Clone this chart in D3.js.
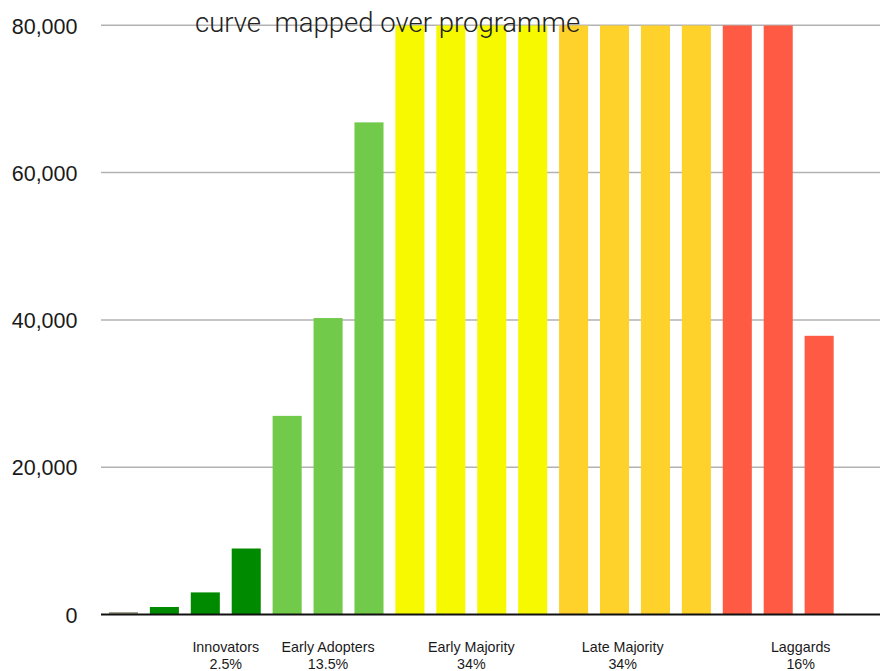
<!DOCTYPE html>
<html>
<head>
<meta charset="utf-8">
<script src="https://cdn.jsdelivr.net/npm/d3@7"></script>
<style>
  html, body { margin: 0; padding: 0; background: #fff; }
  svg { display: block; }
</style>
</head>
<body>
<svg id="chart" width="886" height="671"></svg>
<script>
// Programme months and the number of adopters reached in each
const months = ["M1","M2","M3","M4","M5","M6","M7","M8","M9","M10","M11","M12","M13","M14","M15","M16","M17","M18"];
const adopters = [340, 1020, 3000, 8960, 26970, 40250, 66820, 80000, 80000, 80000, 80000, 80000, 80000, 80000, 80000, 80000, 80000, 37840];
// Adopter segment each month belongs to (0 = pre-launch)
const segmentOf = [0, 1, 1, 1, 2, 2, 2, 3, 3, 3, 3, 4, 4, 4, 4, 5, 5, 5];
const segmentColors = ["#a3a38f", "#008a00", "#72ca4a", "#f6f900", "#ffd12b", "#ff5a43"];

// Segment captions under the axis
const segmentNames = ["Innovators", "Early Adopters", "Early Majority", "Late Majority", "Laggards"];
const segmentShares = ["2.5%", "13.5%", "34%", "34%", "16%"];
const yTicks = [0, 20000, 40000, 60000, 80000];
const title = "curve  mapped over programme";

const svg = d3.select("#chart");
const baseY = 614.5, topY = 25.3;
const gridLeft = 101, gridRight = 880;

const x = d3.scaleBand().domain(months).range([103, 839.6]).paddingInner(0.29).paddingOuter(0.145);
const y = d3.scaleLinear().domain([0, 80000]).range([baseY, topY]);

// Horizontal gridlines
svg.append("g").selectAll("line").data(yTicks.filter(d => d > 0)).join("line")
  .attr("x1", gridLeft).attr("x2", gridRight)
  .attr("y1", d => y(d)).attr("y2", d => y(d))
  .attr("stroke", "#b2b2b2").attr("stroke-width", 1.5);

// Y axis labels
const yAxis = d3.axisLeft(y).tickValues(yTicks).tickSize(0).tickPadding(0)
  .tickFormat(d3.format(","));
svg.append("g").attr("transform", "translate(77.5,0)").call(yAxis)
  .call(g => g.select(".domain").remove())
  .call(g => g.selectAll("text")
    .attr("font-family", "'Liberation Sans', Arial, sans-serif")
    .attr("font-size", 21.5).attr("fill", "#1a1a1a").attr("dy", "0.36em"));

// Bars (clipped at the top of the value range)
svg.append("defs").append("clipPath").attr("id", "plot")
  .append("rect").attr("x", 0).attr("y", topY).attr("width", 886).attr("height", baseY - topY);
svg.append("g").attr("clip-path", "url(#plot)")
  .selectAll("rect").data(adopters).join("rect")
  .attr("x", (d, i) => x(months[i]))
  .attr("width", x.bandwidth())
  .attr("y", d => y(d))
  .attr("height", d => baseY - y(d))
  .attr("fill", (d, i) => segmentColors[segmentOf[i]]);

// Baseline
svg.append("line").attr("x1", gridLeft).attr("x2", gridRight)
  .attr("y1", baseY).attr("y2", baseY).attr("stroke", "#111").attr("stroke-width", 2);

// Segment captions, anchored between months of each segment
const captionAt = [2.5, 5, 8.5, 12.2, 16.55];
const step = x.step();
const firstCenter = x(months[0]) + x.bandwidth() / 2;
const caps = svg.append("g")
  .attr("font-family", "'Liberation Sans', Arial, sans-serif")
  .attr("font-size", 14.3).attr("fill", "#1a1a1a").attr("text-anchor", "middle");
segmentNames.forEach((name, i) => {
  const cx = firstCenter + captionAt[i] * step;
  caps.append("text").attr("x", cx).attr("y", 651.5).text(name);
  caps.append("text").attr("x", cx).attr("y", 668.5).text(segmentShares[i]);
});

// Title
svg.append("text").attr("x", 195).attr("y", 31.5)
  .style("white-space", "pre")
  .attr("font-family", "'Roboto Light', 'Lato Light', 'Open Sans Light', Roboto, sans-serif")
  .attr("font-weight", 300)
  .attr("font-size", 27.5).attr("fill", "#222").text(title);
</script>
</body>
</html>
